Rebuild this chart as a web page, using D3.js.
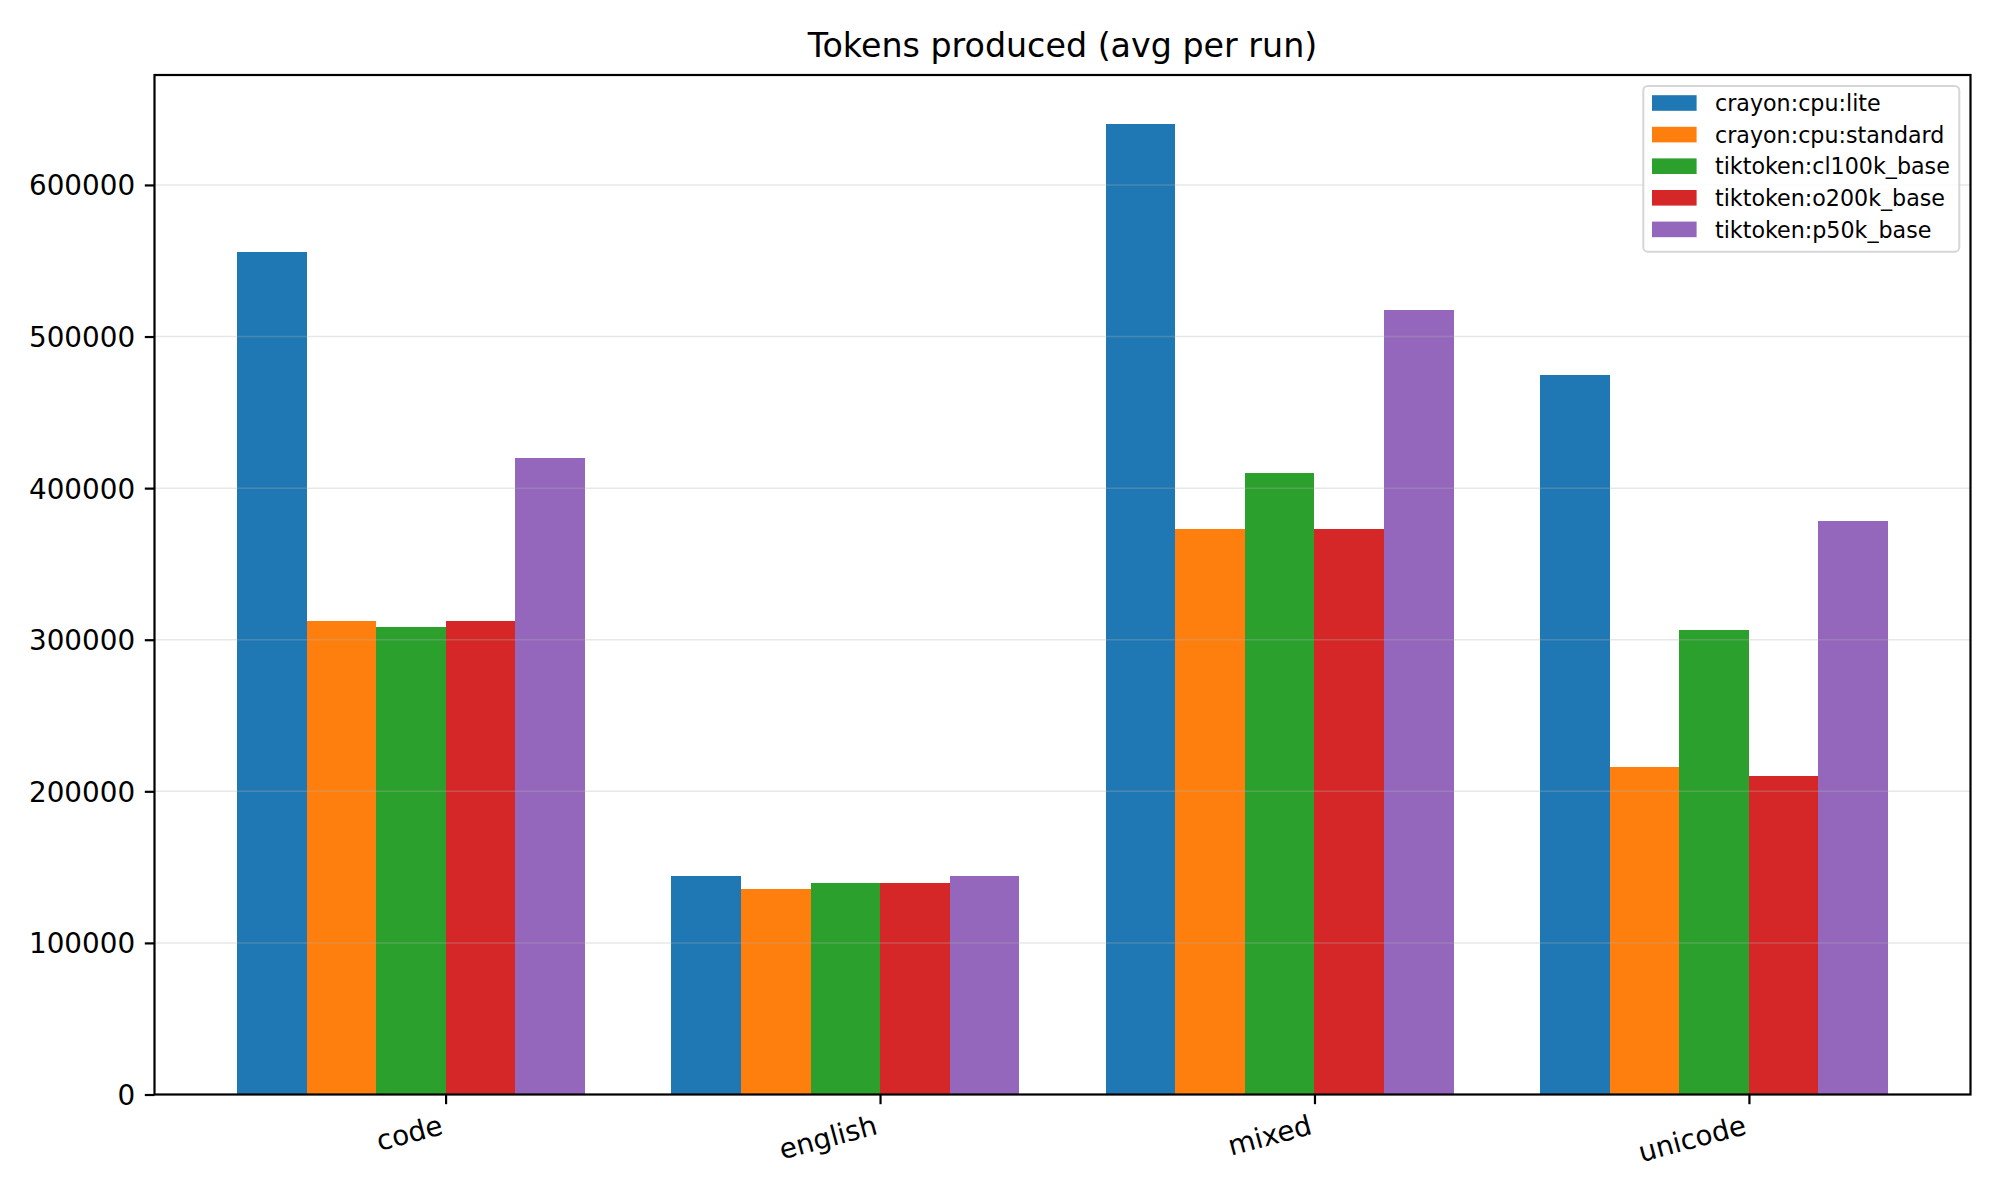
<!DOCTYPE html>
<html>
<head>
<meta charset="utf-8">
<script src="https://cdn.jsdelivr.net/npm/d3@7"></script>
<style>
  html, body { margin: 0; padding: 0; background: #ffffff; }
  svg { display: block; font-family: "DejaVu Sans", sans-serif; }
</style>
</head>
<body>
<svg id="chart" width="2000" height="1200"></svg>
<script>
// ---- data ----
const categories = ["code", "english", "mixed", "unicode"];
const seriesNames = ["crayon:cpu:lite", "crayon:cpu:standard", "tiktoken:cl100k_base", "tiktoken:o200k_base", "tiktoken:p50k_base"];
const liteValues      = [556000, 143900, 640500, 474300];
const standardValues  = [312100, 135400, 372800, 215800];
const cl100kValues    = [308200, 139300, 409700, 306200];
const o200kValues     = [312100, 139300, 372800, 209900];
const p50kValues      = [420200, 143900, 517800, 378000];
const yTickValues = [0, 100000, 200000, 300000, 400000, 500000, 600000];
const titleText = "Tokens produced (avg per run)";

const seriesValues = [liteValues, standardValues, cl100kValues, o200kValues, p50kValues];
const colors = ["#1f77b4", "#ff7f0e", "#2ca02c", "#d62728", "#9467bd"];

// ---- layout ----
const plot = { left: 154.5, right: 1970.5, top: 75, bottom: 1094.5 };
const barW = 0.16;
const groupW = barW * seriesNames.length;
const lo = -groupW / 2, hi = categories.length - 1 + groupW / 2;
const margin = 0.05 * (hi - lo);

const x = d3.scaleLinear().domain([lo - margin, hi + margin]).range([plot.left, plot.right]);
const maxV = d3.max(seriesValues.flat());
const y = d3.scaleLinear().domain([0, maxV * 1.05]).range([plot.bottom, plot.top]);

const svg = d3.select("#chart");
svg.append("rect").attr("width", 2000).attr("height", 1200).attr("fill", "#fff");

// bars
const flat = [];
seriesValues.forEach((vals, j) => vals.forEach((v, i) => flat.push({ i, j, v })));
svg.append("g").selectAll("rect").data(flat).enter().append("rect")
  .attr("x", d => x(d.i - groupW / 2 + d.j * barW))
  .attr("width", d => x(d.i - groupW / 2 + (d.j + 1) * barW) - x(d.i - groupW / 2 + d.j * barW))
  .attr("y", d => y(d.v))
  .attr("height", d => y(0) - y(d.v))
  .attr("fill", d => colors[d.j])
  .attr("shape-rendering", "crispEdges");

// grid lines (over bars, like matplotlib)
svg.append("g").selectAll("line").data(yTickValues).enter().append("line")
  .attr("x1", plot.left).attr("x2", plot.right)
  .attr("y1", d => y(d)).attr("y2", d => y(d))
  .attr("stroke", "#b0b0b0").attr("stroke-opacity", 0.3).attr("stroke-width", 1.5);

// y axis
const yAxis = d3.axisLeft(y).tickValues(yTickValues).tickFormat(d3.format("d")).tickSize(9.7).tickPadding(9.7);
const gy = svg.append("g").attr("transform", `translate(${plot.left},0)`).call(yAxis);
gy.select(".domain").remove();
gy.selectAll(".tick line").attr("stroke", "#000").attr("stroke-width", 2.2);
gy.selectAll(".tick text").attr("font-size", "27.8px").attr("font-family", "DejaVu Sans").attr("fill", "#000").attr("dy", "0.36em");

// x axis
const tickPos = categories.map((c, i) => i + barW / 2);
const xAxis = d3.axisBottom(x).tickValues(tickPos).tickFormat((d, k) => categories[k]).tickSize(9.7).tickPadding(0);
const gx = svg.append("g").attr("transform", `translate(0,${plot.bottom})`).call(xAxis);
gx.select(".domain").remove();
gx.selectAll(".tick line").attr("stroke", "#000").attr("stroke-width", 2.2);
gx.selectAll(".tick text")
  .attr("font-size", "27.8px").attr("font-family", "DejaVu Sans").attr("fill", "#000")
  .attr("text-anchor", "end").attr("dy", null).attr("y", null)
  .attr("transform", "translate(-1.7,39.2) rotate(-15)");

// spines
svg.append("rect")
  .attr("x", plot.left).attr("y", plot.top)
  .attr("width", plot.right - plot.left).attr("height", plot.bottom - plot.top)
  .attr("fill", "none").attr("stroke", "#000").attr("stroke-width", 2.2);

// title
svg.append("text")
  .attr("x", (plot.left + plot.right) / 2).attr("y", 57)
  .attr("text-anchor", "middle").attr("font-size", "33.3px").attr("fill", "#000")
  .text(titleText);

// legend
const lg = svg.append("g");
lg.append("rect")
  .attr("x", 1643.3).attr("y", 86).attr("width", 1959.3 - 1643.3).attr("height", 251.7 - 86)
  .attr("rx", 4.5).attr("ry", 4.5)
  .attr("fill", "#fff").attr("fill-opacity", 0.8)
  .attr("stroke", "#cccccc").attr("stroke-opacity", 0.8).attr("stroke-width", 2);
const rows = lg.selectAll("g.row").data(seriesNames).enter().append("g")
  .attr("transform", (d, k) => `translate(0,${103 + k * 31.6})`);
rows.append("rect")
  .attr("x", 1652).attr("y", -7.8).attr("width", 44.6).attr("height", 15.6)
  .attr("fill", (d, k) => colors[k]);
rows.append("text")
  .attr("x", 1715).attr("y", 8.2)
  .attr("font-size", "22.2px").attr("fill", "#000")
  .text(d => d);
</script>
</body>
</html>
